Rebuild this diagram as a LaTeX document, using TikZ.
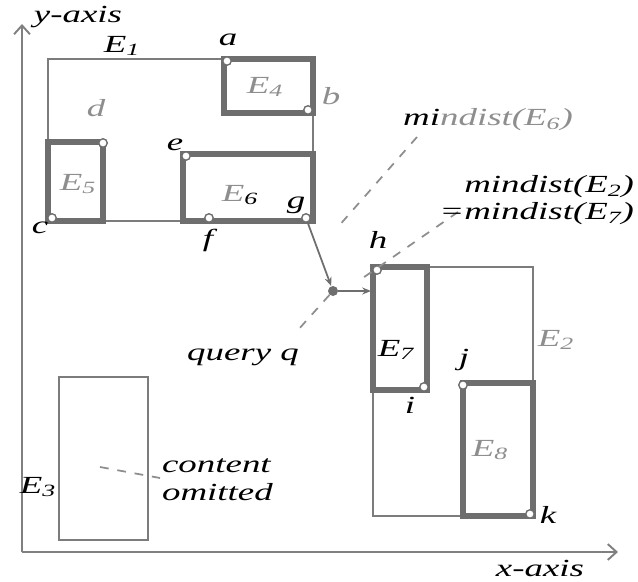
\documentclass[tikz,border=0pt]{standalone}
\usepackage{fontspec}
\setmainfont{Liberation Serif}[FakeStretch=1.5]
\usetikzlibrary{arrows.meta}
\definecolor{boxgray}{HTML}{7C7C7C}
\definecolor{thickgray}{HTML}{6E6E6E}
\definecolor{labgray}{HTML}{8E8E8E}
\definecolor{axisgray}{HTML}{808080}

\begin{document}
\begin{tikzpicture}[x=0.02cm,y=-0.02cm,font=\itshape\fontsize{14}{16}\selectfont,
  thinbox/.style={draw=boxgray,line width=1.1pt},
  thickbox/.style={draw=thickgray,line width=3.8pt,line join=miter},
  pt/.style={circle,draw=thickgray,fill=white,line width=0.8pt,inner sep=0pt,minimum size=0.17cm},
  lab/.style={inner sep=1pt},
  glab/.style={inner sep=1pt,text=labgray},
  hint/.style={draw=labgray,line width=1pt,dash pattern=on 5pt off 5pt},
  qarrow/.style={draw=thickgray,line width=1pt,-{Stealth[length=5pt,width=4pt]}},
  axis/.style={draw=axisgray,line width=1.1pt,-{Straight Barb[length=5pt,width=9pt]}}]
\useasboundingbox (0,0) rectangle (638,581);
% axes
\coordinate (o) at (22,552);
\draw[axis] (o) -- (22,24);
\draw[axis] (o) -- (618,552);
\node[lab] (ylab) at (78,17) {y-axis};
\node[lab] (xlab) at (540,568) {x-axis};
% entries
\draw[thinbox] (48,59) rectangle (313,221);
\draw[thinbox] (373,267) rectangle (533,516);
\draw[thinbox] (59,377) rectangle (148,540);
\draw[thickbox] (224,59) rectangle (313,113);
\draw[thickbox] (48,142) rectangle (103,221);
\draw[thickbox] (183,154) rectangle (313,221);
\draw[thickbox] (373,267) rectangle (427,390);
\draw[thickbox] (463,383) rectangle (533,516);
% corner points
\node[pt] (a) at (227,61) {};
\node[pt] (b) at (308,110) {};
\node[pt] (c) at (52,218) {};
\node[pt] (d) at (103,143) {};
\node[pt] (e) at (186,156) {};
\node[pt] (f) at (209,218) {};
\node[pt] (g) at (306,218) {};
\node[pt] (h) at (377,270) {};
\node[pt] (i) at (424,387) {};
\node[pt] (j) at (463,385) {};
\node[pt] (k) at (530,514) {};
% query and distances
\node[circle,fill=thickgray,inner sep=0pt,minimum size=0.2cm] (q) at (333,291) {};
\coordinate (e7w) at (371,291);
\draw[qarrow] (g) -- (q);
\draw[qarrow] (q) -- (e7w);
\coordinate (m6) at (417,137);
\coordinate (m6end) at (337,228);
\coordinate (m2) at (458,212);
\coordinate (m2end) at (357,282);
\coordinate (qend) at (298,330);
\coordinate (e3c) at (100,467);
\coordinate (e3end) at (160,478);
\draw[hint] (m6) -- (m6end);
\draw[hint] (m2) -- (m2end);
\draw[hint] (q) -- (qend);
\draw[hint] (e3c) -- (e3end);
% labels
\node[lab] (lE1) at (122,46) {E\textsubscript{1}};
\node[lab] (la) at (228,40) {a};
\node[glab] (lb) at (331,96) {b};
\node[glab] (lE4) at (265,87) {E\textsubscript{4}};
\node[glab] (ld) at (96,108) {d};
\node[glab] (lE5) at (78,184) {E\textsubscript{5}};
\node[lab] (le) at (175,145) {e};
\node[lab] (lE6) at (240,195) {\textcolor{labgray}{E}\textsubscript{6}};
\node[lab] (lc) at (40,228) {c};
\node[lab] (lf) at (208,240) {f};
\node[lab] (lg) at (296,205) {g};
\node[glab] (lm6) at (488,120) {\textcolor{black}{mi}ndist(E\textsubscript{6})};
\node[lab,anchor=east] (lm2) at (636,187) {mindist(E\textsubscript{2})};
\node[lab,anchor=east] (lm7) at (636,214) {=mindist(E\textsubscript{7})};
\node[lab] (lh) at (378,240) {h};
\node[lab] (lq) at (243,357) {query q};
\node[lab] (lE7) at (396,350) {E\textsubscript{7}};
\node[lab] (li) at (410,405) {i};
\node[lab] (lj) at (464,360) {j};
\node[glab] (lE2) at (556,340) {E\textsubscript{2}};
\node[glab] (lE8) at (490,450) {E\textsubscript{8}};
\node[lab] (lk) at (548,515) {k};
\node[lab] (lE3) at (38,487) {E\textsubscript{3}};
\node[lab,align=left,anchor=west] (lomit) at (160,480) {content\\omitted};
\end{tikzpicture}
\end{document}
